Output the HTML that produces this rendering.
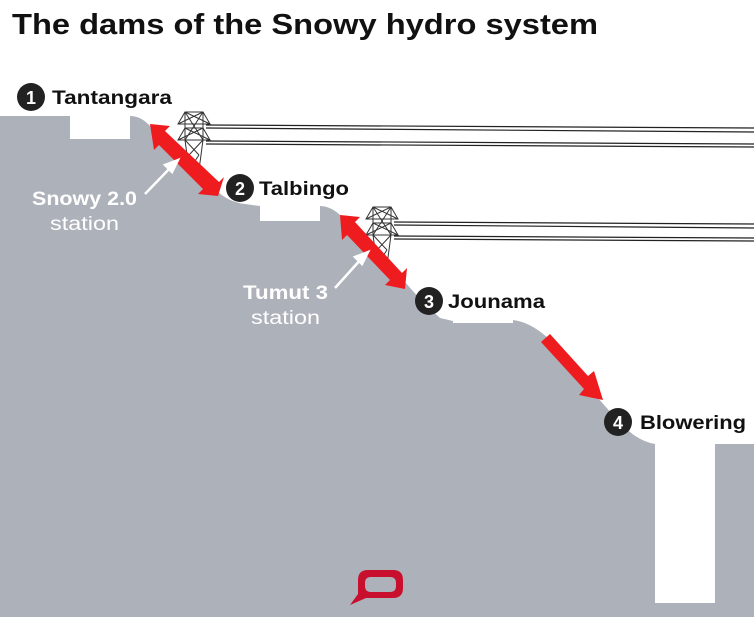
<!DOCTYPE html>
<html><head><meta charset="utf-8"><style>
body{margin:0;background:#fff;}
svg{display:block;font-family:"Liberation Sans",sans-serif;}
</style></head><body>
<svg width="754" height="617" viewBox="0 0 754 617" xmlns="http://www.w3.org/2000/svg">
<defs>
<g id="pyl" stroke="#333" stroke-width="1" fill="#fff">
<path d="M-9,0 L9,0 L16,12 L-16,12 Z"/>
<path d="M-9,16 L9,16 L16,28 L-16,28 Z"/>
<path d="M-9,0 L9,28 M9,0 L-9,28 M-16,12 L9,0 M16,12 L-9,0 M-16,28 L9,16 M16,28 L-9,16" fill="none"/>
<path d="M-9,0 L-9,28 L-5,58 M9,0 L9,28 L5,58 M-9,28 L5,43 M9,28 L-5,43 M-5,43 L5,58 M5,43 L-5,58" fill="none"/>
</g>
</defs>
<text x="12" y="34" font-size="29" font-weight="bold" fill="#111" textLength="586" lengthAdjust="spacingAndGlyphs">The dams of the Snowy hydro system</text>
<path fill="#adb1ba" d="M0,116 L70,116 L70,139 L130,139 L130,116 Q140,116 148,124 L212,186 Q226,202 245,204 L260,206 L260,221 L320,221 L320,206 Q332,206 343,218 L405,282 Q420,300 440,318 L453,321 L453,323 L513,323 L513,320 Q530,322 548,338 L598,398 Q615,418 630,432 Q642,442 655,444 L655,603 L715,603 L715,444 L754,444 L754,617 L0,617 Z"/>
<g stroke="#222" stroke-width="1.2" fill="none">
<path d="M206,125 L754,128 M206,128 L754,132"/>
<path d="M206,141 L754,144 M206,144 L754,147"/>
<path d="M394,222 L754,224 M394,225 L754,228"/>
<path d="M394,236 L754,238 M394,239 L754,241"/>
</g>
<use href="#pyl" x="194" y="112"/>
<use href="#pyl" x="382" y="207"/>
<g fill="#ee1c1f">
<path d="M150,124 L170,126 L165,131 L219,182 L224,177 L218,196 L198,194 L203,189 L159,145 L154,150 Z"/>
<path d="M340,215 L360,217 L355,222 L402,273 L407,268 L405,289 L385,285 L390,280 L347,235 L342,240 Z"/>
<path d="M541,342 L550,334 L588,376 L594,371 L603,400 L579,395 L584,389 Z"/>
</g>
<g stroke="#fff" stroke-width="2.5" fill="#fff">
<path d="M145,194 L172,166" fill="none"/><path d="M178,160 L165,165 L172,172 Z"/>
<path d="M335,288 L362,258" fill="none"/><path d="M368,252 L355,257 L362,264 Z"/>
</g>
<g fill="#fff" font-size="19">
<text x="32" y="205" font-weight="bold" textLength="105" lengthAdjust="spacingAndGlyphs">Snowy 2.0</text>
<text x="50" y="230" textLength="69" lengthAdjust="spacingAndGlyphs">station</text>
<text x="243" y="299" font-weight="bold" textLength="85" lengthAdjust="spacingAndGlyphs">Tumut 3</text>
<text x="251" y="324" textLength="69" lengthAdjust="spacingAndGlyphs">station</text>
</g>
<g font-weight="bold">
<circle cx="31" cy="97" r="14" fill="#222"/><text x="31" y="104" fill="#fff" font-size="18" text-anchor="middle">1</text>
<text x="52" y="104" font-size="19" fill="#111" textLength="120" lengthAdjust="spacingAndGlyphs">Tantangara</text>
<circle cx="240" cy="188" r="14" fill="#222"/><text x="240" y="195" fill="#fff" font-size="18" text-anchor="middle">2</text>
<text x="259" y="195" font-size="19" fill="#111" textLength="90" lengthAdjust="spacingAndGlyphs">Talbingo</text>
<circle cx="429" cy="301" r="14" fill="#222"/><text x="429" y="308" fill="#fff" font-size="18" text-anchor="middle">3</text>
<text x="448" y="308" font-size="19" fill="#111" textLength="97" lengthAdjust="spacingAndGlyphs">Jounama</text>
<circle cx="618" cy="422" r="14" fill="#222"/><text x="618" y="429" fill="#fff" font-size="18" text-anchor="middle">4</text>
<text x="640" y="429" font-size="19" fill="#111" textLength="106" lengthAdjust="spacingAndGlyphs">Blowering</text>
</g>
<path d="M368,570 L393,570 Q403,570 403,580 L403,588 Q403,598 393,598 L366,598 L350,605 L358,594 Q358,592 358,588 L358,580 Q358,570 368,570 Z M371,577 Q365,577 365,583 L365,586 Q365,592 371,592 L390,592 Q396,592 396,586 L396,583 Q396,577 390,577 Z" fill="#c8102e" fill-rule="evenodd"/>
</svg>
</body></html>
